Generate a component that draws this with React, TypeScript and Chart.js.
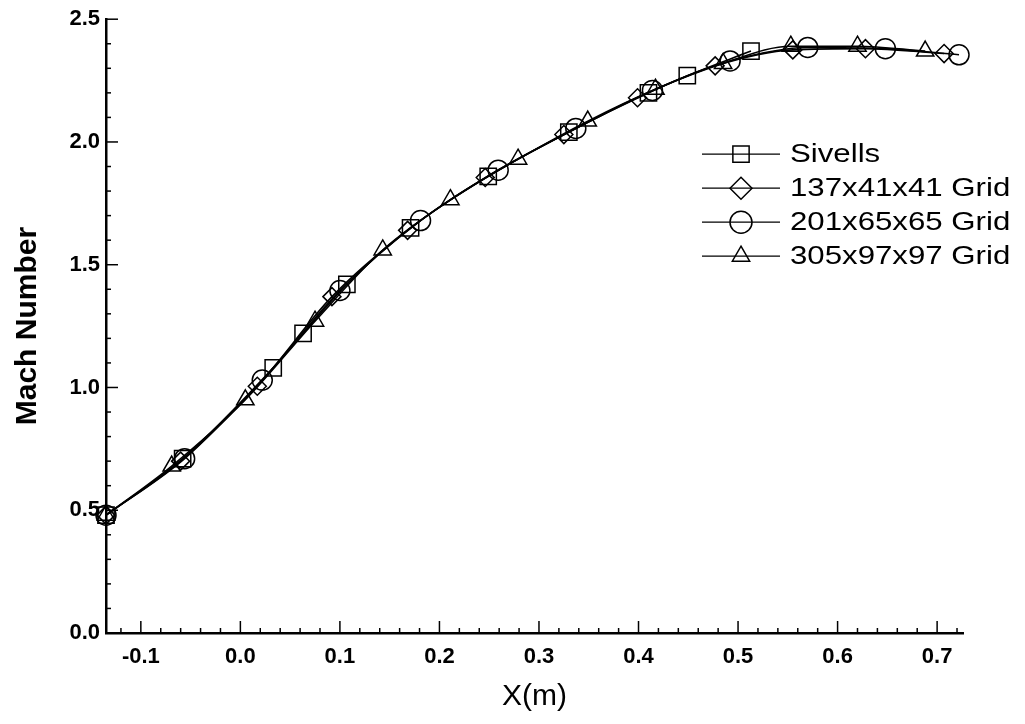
import React, { useEffect, useRef } from 'react';
import { Chart, registerables } from 'chart.js';

Chart.register(...registerables);

// ---- Data ----
const sivellsX = [-0.135, -0.058, 0.033, 0.063, 0.107, 0.171, 0.249, 0.330, 0.410, 0.449, 0.513];
const sivellsM = [0.48, 0.71, 1.08, 1.22, 1.42, 1.65, 1.86, 2.04, 2.20, 2.27, 2.37];

const grid137X = [-0.135, -0.060, 0.017, 0.092, 0.168, 0.246, 0.325, 0.399, 0.477, 0.555, 0.628, 0.707];
const grid137M = [0.48, 0.70, 1.005, 1.37, 1.64, 1.855, 2.03, 2.18, 2.31, 2.375, 2.38, 2.36];

const grid201X = [-0.135, -0.056, 0.022, 0.100, 0.181, 0.259, 0.337, 0.414, 0.492, 0.570, 0.648, 0.722];
const grid201M = [0.48, 0.71, 1.03, 1.395, 1.68, 1.885, 2.055, 2.21, 2.33, 2.385, 2.38, 2.355];

const grid305X = [-0.135, -0.069, 0.005, 0.075, 0.143, 0.211, 0.279, 0.349, 0.417, 0.485, 0.553, 0.620, 0.688];
const grid305M = [0.48, 0.68, 0.95, 1.27, 1.56, 1.765, 1.93, 2.085, 2.215, 2.32, 2.39, 2.39, 2.37];

const seriesLabels = ['Sivells', '137x41x41 Grid', '201x65x65 Grid', '305x97x97 Grid'];
const xMajorTicks = [-0.1, 0.0, 0.1, 0.2, 0.3, 0.4, 0.5, 0.6, 0.7];
const yMajorTicks = [0.0, 0.5, 1.0, 1.5, 2.0, 2.5];

const FONT = '"Liberation Sans", Arial, Helvetica, sans-serif';

const zip = (xs: number[], ys: number[]) => xs.map((x, i) => ({ x, y: ys[i] }));
const isIn = (v: number, list: number[]) => list.some((m) => Math.abs(m - v) < 1e-6);

const pointStyles = ['rect', 'rectRot', 'circle', 'triangle'];
const plotRadius = [11.5, 9, 10, 10];
const legendRadius = [11.5, 11, 11, 10];

function drawMarker(ctx: CanvasRenderingContext2D, style: string, x: number, y: number, r: number) {
  ctx.beginPath();
  if (style === 'rect') {
    const s = Math.SQRT1_2 * r;
    ctx.rect(x - s, y - s, 2 * s, 2 * s);
  } else if (style === 'rectRot') {
    ctx.moveTo(x - r, y);
    ctx.lineTo(x, y - r);
    ctx.lineTo(x + r, y);
    ctx.lineTo(x, y + r);
    ctx.closePath();
  } else if (style === 'circle') {
    ctx.arc(x, y, r, 0, Math.PI * 2);
  } else {
    const a = (2 * Math.PI) / 3;
    ctx.moveTo(x, y - r);
    ctx.lineTo(x + Math.sin(a) * r, y - Math.cos(a) * r);
    ctx.lineTo(x + Math.sin(2 * a) * r, y - Math.cos(2 * a) * r);
    ctx.closePath();
  }
  ctx.stroke();
}

const inwardTicks = {
  id: 'inwardTicks',
  afterDraw(chart: any) {
    const { ctx, chartArea: a } = chart;
    const xs = chart.scales.x;
    const ys = chart.scales.y;
    ctx.save();
    ctx.strokeStyle = '#000';
    ctx.lineWidth = 1.5;
    xs.ticks.forEach((t: any) => {
      const px = xs.getPixelForValue(t.value);
      const len = isIn(t.value, xMajorTicks) ? 12 : 5;
      ctx.beginPath();
      ctx.moveTo(px, a.bottom);
      ctx.lineTo(px, a.bottom - len);
      ctx.stroke();
    });
    ys.ticks.forEach((t: any) => {
      const py = ys.getPixelForValue(t.value);
      const len = isIn(t.value, yMajorTicks) ? 12 : 5;
      ctx.beginPath();
      ctx.moveTo(a.left, py);
      ctx.lineTo(a.left + len, py);
      ctx.stroke();
    });
    ctx.restore();
  },
};

const insideLegend = {
  id: 'insideLegend',
  afterDraw(chart: any) {
    const { ctx, chartArea: a } = chart;
    const x0 = a.left + 596;
    const x1 = a.left + 674;
    const xm = a.left + 635;
    const xt = a.left + 684;
    ctx.save();
    chart.data.datasets.forEach((ds: any, i: number) => {
      const y = a.top + 135 + i * 34;
      ctx.strokeStyle = '#000';
      ctx.lineWidth = 1.2;
      ctx.beginPath();
      ctx.moveTo(x0, y);
      ctx.lineTo(x1, y);
      ctx.stroke();
      ctx.lineWidth = 1.5;
      drawMarker(ctx, pointStyles[i], xm, y, legendRadius[i]);
      ctx.save();
      ctx.translate(xt, y);
      ctx.scale(1.2, 1);
      ctx.fillStyle = '#000';
      ctx.font = `26px ${FONT}`;
      ctx.textAlign = 'left';
      ctx.textBaseline = 'middle';
      ctx.fillText(ds.label, 0, 1);
      ctx.restore();
    });
    ctx.restore();
  },
};

export default function App() {
  const ref = useRef<HTMLCanvasElement>(null);

  useEffect(() => {
    if (!ref.current) return;
    const sets = [
      zip(sivellsX, sivellsM),
      zip(grid137X, grid137M),
      zip(grid201X, grid201M),
      zip(grid305X, grid305M),
    ];
    const chart = new Chart(ref.current, {
      type: 'line',
      data: {
        datasets: sets.map((d, i) => ({
          label: seriesLabels[i],
          data: d,
          borderColor: '#000',
          borderWidth: 1.6,
          backgroundColor: 'rgba(0,0,0,0)',
          pointStyle: pointStyles[i] as any,
          pointRadius: plotRadius[i],
          pointBorderWidth: 1.5,
          pointBorderColor: '#000',
          pointBackgroundColor: 'rgba(0,0,0,0)',
          cubicInterpolationMode: 'monotone' as const,
          clip: false as any,
          fill: false,
        })),
      },
      options: {
        animation: false,
        responsive: true,
        maintainAspectRatio: false,
        layout: { padding: { top: 16, right: 62, left: 0, bottom: 0 } },
        plugins: {
          legend: { display: false },
          tooltip: { enabled: false },
        },
        scales: {
          x: {
            type: 'linear',
            min: -0.135,
            max: 0.726,
            afterFit: (s: any) => { s.height = 91; },
            grid: { display: false, drawTicks: false, drawOnChartArea: false },
            border: { display: true, color: '#000', width: 2.5 },
            ticks: {
              stepSize: 0.02,
              includeBounds: false,
              autoSkip: false,
              maxRotation: 0,
              padding: 11,
              color: '#000',
              font: { family: FONT, size: 22, weight: 'bold' },
              callback: (v: any) => (isIn(Number(v), xMajorTicks) ? Number(v).toFixed(1) : ''),
            },
            title: {
              display: true,
              text: 'X(m)',
              color: '#000',
              font: { family: FONT, size: 30 },
              padding: { top: 0, bottom: 9 },
            },
          },
          y: {
            type: 'linear',
            min: 0,
            max: 2.5,
            afterFit: (s: any) => { s.width = 106; },
            grid: { display: false, drawTicks: false, drawOnChartArea: false },
            border: { display: true, color: '#000', width: 2.5 },
            ticks: {
              stepSize: 0.1,
              includeBounds: false,
              autoSkip: false,
              padding: 6,
              color: '#000',
              font: { family: FONT, size: 22, weight: 'bold' },
              callback: (v: any) => (isIn(Number(v), yMajorTicks) ? Number(v).toFixed(1) : ''),
            },
            title: {
              display: true,
              text: 'Mach Number',
              color: '#000',
              font: { family: FONT, size: 30, weight: 'bold' },
              padding: { top: 10, bottom: 0 },
            },
          },
        },
      },
      plugins: [inwardTicks, insideLegend],
    });
    return () => chart.destroy();
  }, []);

  return (
    <div style={{ position: 'fixed', left: 0, top: 0, width: 1025, height: 724, background: '#fff' }}>
      <canvas ref={ref} />
    </div>
  );
}
